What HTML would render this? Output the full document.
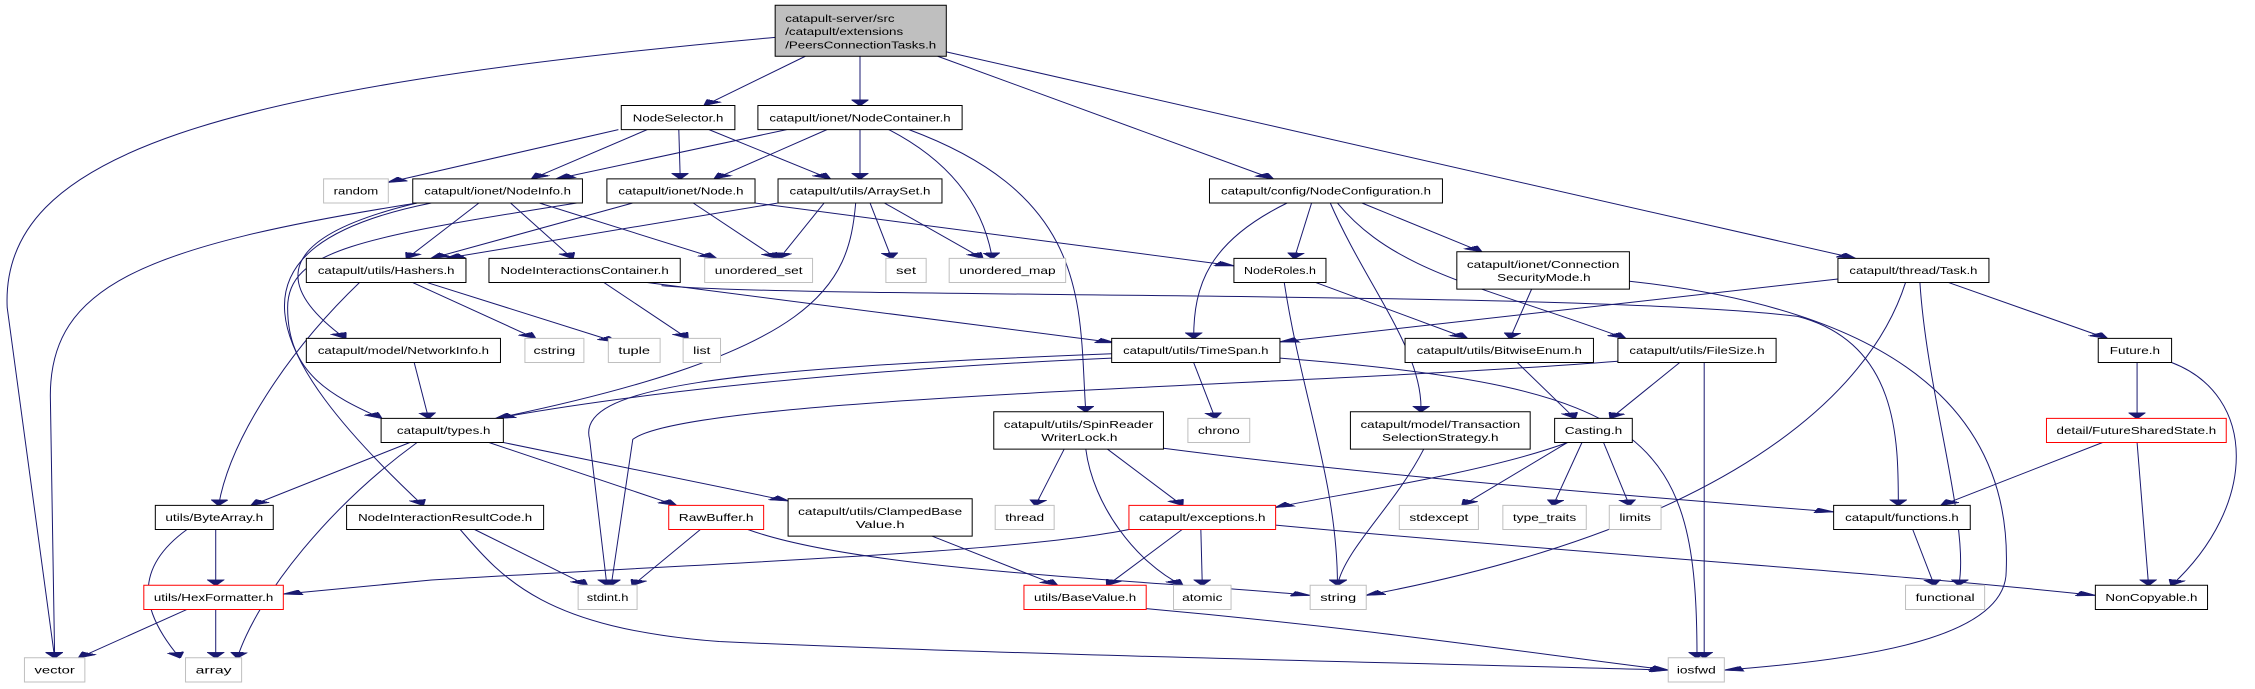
<!DOCTYPE html>
<html><head><meta charset="utf-8"><style>
html,body{margin:0;padding:0;background:#fff;}
svg{display:block;}
text{font-family:"Liberation Sans",Helvetica,sans-serif;font-size:23px;fill:#000;}
.e{fill:none;stroke:#191970;stroke-width:1;vector-effect:non-scaling-stroke;}
.b{fill:#fff;stroke:#000;stroke-width:1;vector-effect:non-scaling-stroke;}
.g{fill:#fff;stroke:#bfbfbf;stroke-width:1;vector-effect:non-scaling-stroke;}
.r{fill:#fff;stroke:#ff0000;stroke-width:1;vector-effect:non-scaling-stroke;}
</style></head><body>
<svg width="2255" height="689" viewBox="0 0 1568 1568" preserveAspectRatio="none" xmlns="http://www.w3.org/2000/svg">
<defs><marker id="a" markerUnits="userSpaceOnUse" markerWidth="14" markerHeight="12" refX="13" refY="6" orient="auto"><path d="M0,0 L14,6 L0,12 z" fill="#191970" stroke="#191970"/></marker></defs>
<g marker-end="url(#a)">
<path class="e" d="M539,85 C150,200 0,350 5,700 L38,1497"/>
<path class="e" d="M560,128 L490,240"/>
<path class="e" d="M598,128 L598,240"/>
<path class="e" d="M652,128 L885,407"/>
<path class="e" d="M658,118 L1290,588"/>
<path class="e" d="M430,295 L270,415"/>
<path class="e" d="M450,295 L370,407"/>
<path class="e" d="M472,295 L473,407"/>
<path class="e" d="M493,295 L577,407"/>
<path class="e" d="M547,295 L387,407"/>
<path class="e" d="M575,295 L497,407"/>
<path class="e" d="M598,295 L598,407"/>
<path class="e" d="M618,295 Q680,400 690,588"/>
<path class="e" d="M632,295 C760,450 750,700 755,937"/>
<path class="e" d="M290,462 C100,560 35,650 35,900 L38,1497"/>
<path class="e" d="M333,462 L283,588"/>
<path class="e" d="M355,462 L398,588"/>
<path class="e" d="M375,462 L498,588"/>
<path class="e" d="M300,462 C150,560 180,800 294,1150"/>
<path class="e" d="M290,462 C190,540 190,650 240,770"/>
<path class="e" d="M405,460 C250,540 200,570 200,700 C200,850 230,900 265,952"/>
<path class="e" d="M440,462 L300,588"/>
<path class="e" d="M482,462 L540,588"/>
<path class="e" d="M525,462 L858,605"/>
<path class="e" d="M541,462 L310,588"/>
<path class="e" d="M573,462 L542,588"/>
<path class="e" d="M605,462 L620,588"/>
<path class="e" d="M615,462 L683,588"/>
<path class="e" d="M595,462 C590,650 570,800 345,952"/>
<path class="e" d="M895,462 C840,550 830,650 830,770"/>
<path class="e" d="M912,462 L900,588"/>
<path class="e" d="M925,462 C950,650 990,800 988,937"/>
<path class="e" d="M930,462 C970,620 1030,650 1130,770"/>
<path class="e" d="M947,462 L1030,573"/>
<path class="e" d="M287,643 L372,770"/>
<path class="e" d="M297,643 L428,778"/>
<path class="e" d="M250,643 C200,800 160,1000 152,1150"/>
<path class="e" d="M420,643 L478,770"/>
<path class="e" d="M450,643 L775,780"/>
<path class="e" d="M460,650 C560,680 1100,660 1250,720 C1320,780 1320,1000 1320,1150"/>
<path class="e" d="M893,643 C905,900 930,1100 930,1332"/>
<path class="e" d="M915,643 L1020,770"/>
<path class="e" d="M1065,658 L1050,770"/>
<path class="e" d="M1133,640 C1300,700 1400,900 1395,1300 C1395,1450 1300,1500 1199,1525"/>
<path class="e" d="M1278,635 L890,778"/>
<path class="e" d="M1325,643 C1300,900 1200,1200 950,1355"/>
<path class="e" d="M1335,643 C1340,900 1370,1200 1362,1332"/>
<path class="e" d="M1355,643 L1465,770"/>
<path class="e" d="M288,825 L298,952"/>
<path class="e" d="M773,815 C600,840 450,890 345,952"/>
<path class="e" d="M773,805 C500,840 400,880 410,1000 L422,1332"/>
<path class="e" d="M830,825 L845,952"/>
<path class="e" d="M890,815 C1150,880 1180,1000 1180,1497"/>
<path class="e" d="M1055,825 L1095,952"/>
<path class="e" d="M1168,825 L1120,952"/>
<path class="e" d="M1185,825 L1185,1497"/>
<path class="e" d="M1125,822 C900,880 480,900 440,1000 L425,1332"/>
<path class="e" d="M1486,825 L1486,952"/>
<path class="e" d="M1510,825 C1570,900 1570,1150 1510,1332"/>
<path class="e" d="M285,1007 L175,1150"/>
<path class="e" d="M340,1007 L470,1150"/>
<path class="e" d="M350,1007 L548,1140"/>
<path class="e" d="M290,1007 C230,1150 180,1350 165,1497"/>
<path class="e" d="M740,1022 L720,1150"/>
<path class="e" d="M770,1022 L822,1150"/>
<path class="e" d="M755,1022 C760,1150 790,1280 822,1332"/>
<path class="e" d="M809,1020 C950,1080 1100,1120 1275,1165"/>
<path class="e" d="M990,1022 C970,1150 935,1250 930,1332"/>
<path class="e" d="M1090,1007 C1030,1080 920,1130 887,1155"/>
<path class="e" d="M1090,1007 L1017,1150"/>
<path class="e" d="M1100,1007 L1080,1150"/>
<path class="e" d="M1115,1007 L1133,1150"/>
<path class="e" d="M1462,1007 L1350,1150"/>
<path class="e" d="M1486,1007 L1494,1332"/>
<path class="e" d="M150,1205 L150,1332"/>
<path class="e" d="M130,1205 C90,1300 100,1400 125,1497"/>
<path class="e" d="M330,1205 L408,1332"/>
<path class="e" d="M320,1205 C350,1320 380,1430 500,1460 C700,1490 1000,1510 1160,1525"/>
<path class="e" d="M487,1205 L440,1332"/>
<path class="e" d="M520,1205 C600,1300 800,1320 911,1355"/>
<path class="e" d="M648,1220 L735,1332"/>
<path class="e" d="M785,1205 C700,1260 500,1280 300,1320 L197,1352"/>
<path class="e" d="M822,1205 L770,1332"/>
<path class="e" d="M835,1205 L836,1332"/>
<path class="e" d="M887,1195 C1100,1260 1300,1300 1457,1355"/>
<path class="e" d="M1330,1205 L1345,1332"/>
<path class="e" d="M130,1387 L55,1497"/>
<path class="e" d="M150,1387 L150,1497"/>
<path class="e" d="M797,1385 C950,1430 1050,1480 1160,1525"/>
</g>
<g>
<rect x="539" y="12" width="119" height="116" class="b" style="fill:#bfbfbf"/>
<text x="546" y="50" textLength="76" lengthAdjust="spacingAndGlyphs">catapult-server/src</text>
<text x="546" y="80" textLength="82" lengthAdjust="spacingAndGlyphs">/catapult/extensions</text>
<text x="546" y="110" textLength="105" lengthAdjust="spacingAndGlyphs">/PeersConnectionTasks.h</text>

<rect x="432" y="240" width="79" height="55" class="b"/><text x="440" y="276" textLength="63" lengthAdjust="spacingAndGlyphs">NodeSelector.h</text>
<rect x="527" y="240" width="142" height="55" class="b"/><text x="535" y="276" textLength="126" lengthAdjust="spacingAndGlyphs">catapult/ionet/NodeContainer.h</text>
<rect x="225" y="407" width="45" height="55" class="g"/><text x="232" y="443" textLength="31" lengthAdjust="spacingAndGlyphs">random</text>
<rect x="287" y="407" width="118" height="55" class="b"/><text x="295" y="443" textLength="102" lengthAdjust="spacingAndGlyphs">catapult/ionet/NodeInfo.h</text>
<rect x="422" y="407" width="103" height="55" class="b"/><text x="430" y="443" textLength="87" lengthAdjust="spacingAndGlyphs">catapult/ionet/Node.h</text>
<rect x="541" y="407" width="114" height="55" class="b"/><text x="549" y="443" textLength="98" lengthAdjust="spacingAndGlyphs">catapult/utils/ArraySet.h</text>
<rect x="841" y="407" width="162" height="55" class="b"/><text x="849" y="443" textLength="146" lengthAdjust="spacingAndGlyphs">catapult/config/NodeConfiguration.h</text>
<rect x="213" y="588" width="111" height="55" class="b"/><text x="221" y="624" textLength="95" lengthAdjust="spacingAndGlyphs">catapult/utils/Hashers.h</text>
<rect x="340" y="588" width="133" height="55" class="b"/><text x="348" y="624" textLength="117" lengthAdjust="spacingAndGlyphs">NodeInteractionsContainer.h</text>
<rect x="490" y="588" width="75" height="55" class="g"/><text x="497" y="624" textLength="61" lengthAdjust="spacingAndGlyphs">unordered_set</text>
<rect x="616" y="588" width="28" height="55" class="g"/><text x="623" y="624" textLength="14" lengthAdjust="spacingAndGlyphs">set</text>
<rect x="660" y="588" width="81" height="55" class="g"/><text x="667" y="624" textLength="67" lengthAdjust="spacingAndGlyphs">unordered_map</text>
<rect x="858" y="588" width="64" height="55" class="b"/><text x="865" y="624" textLength="50" lengthAdjust="spacingAndGlyphs">NodeRoles.h</text>
<rect x="1013" y="573" width="120" height="85" class="b"/><text x="1020" y="610" textLength="106" lengthAdjust="spacingAndGlyphs">catapult/ionet/Connection</text><text x="1041" y="640" textLength="65" lengthAdjust="spacingAndGlyphs">SecurityMode.h</text>
<rect x="1278" y="588" width="105" height="55" class="b"/><text x="1286" y="624" textLength="89" lengthAdjust="spacingAndGlyphs">catapult/thread/Task.h</text>
<rect x="213" y="770" width="135" height="55" class="b"/><text x="221" y="806" textLength="119" lengthAdjust="spacingAndGlyphs">catapult/model/NetworkInfo.h</text>
<rect x="365" y="770" width="41" height="55" class="g"/><text x="371" y="806" textLength="29" lengthAdjust="spacingAndGlyphs">cstring</text>
<rect x="423" y="770" width="36" height="55" class="g"/><text x="430" y="806" textLength="22" lengthAdjust="spacingAndGlyphs">tuple</text>
<rect x="475" y="770" width="26" height="55" class="g"/><text x="482" y="806" textLength="12" lengthAdjust="spacingAndGlyphs">list</text>
<rect x="773" y="770" width="117" height="55" class="b"/><text x="781" y="806" textLength="101" lengthAdjust="spacingAndGlyphs">catapult/utils/TimeSpan.h</text>
<rect x="977" y="770" width="131" height="55" class="b"/><text x="985" y="806" textLength="115" lengthAdjust="spacingAndGlyphs">catapult/utils/BitwiseEnum.h</text>
<rect x="1125" y="770" width="110" height="55" class="b"/><text x="1133" y="806" textLength="94" lengthAdjust="spacingAndGlyphs">catapult/utils/FileSize.h</text>
<rect x="1459" y="770" width="51" height="55" class="b"/><text x="1467" y="806" textLength="35" lengthAdjust="spacingAndGlyphs">Future.h</text>
<rect x="265" y="952" width="85" height="55" class="b"/><text x="276" y="988" textLength="65" lengthAdjust="spacingAndGlyphs">catapult/types.h</text>
<rect x="691" y="937" width="118" height="85" class="b"/><text x="698" y="974" textLength="104" lengthAdjust="spacingAndGlyphs">catapult/utils/SpinReader</text><text x="724" y="1004" textLength="53" lengthAdjust="spacingAndGlyphs">WriterLock.h</text>
<rect x="826" y="952" width="43" height="55" class="g"/><text x="833" y="988" textLength="29" lengthAdjust="spacingAndGlyphs">chrono</text>
<rect x="939" y="937" width="125" height="85" class="b"/><text x="946" y="974" textLength="111" lengthAdjust="spacingAndGlyphs">catapult/model/Transaction</text><text x="961" y="1004" textLength="81" lengthAdjust="spacingAndGlyphs">SelectionStrategy.h</text>
<rect x="1081" y="952" width="54" height="55" class="b"/><text x="1088" y="988" textLength="40" lengthAdjust="spacingAndGlyphs">Casting.h</text>
<rect x="1423" y="952" width="125" height="55" class="r"/><text x="1430" y="988" textLength="111" lengthAdjust="spacingAndGlyphs">detail/FutureSharedState.h</text>
<rect x="108" y="1150" width="82" height="55" class="b"/><text x="115" y="1186" textLength="68" lengthAdjust="spacingAndGlyphs">utils/ByteArray.h</text>
<rect x="241" y="1150" width="137" height="55" class="b"/><text x="249" y="1186" textLength="121" lengthAdjust="spacingAndGlyphs">NodeInteractionResultCode.h</text>
<rect x="465" y="1150" width="66" height="55" class="r"/><text x="472" y="1186" textLength="52" lengthAdjust="spacingAndGlyphs">RawBuffer.h</text>
<rect x="548" y="1135" width="128" height="85" class="b"/><text x="555" y="1172" textLength="114" lengthAdjust="spacingAndGlyphs">catapult/utils/ClampedBase</text><text x="595" y="1202" textLength="34" lengthAdjust="spacingAndGlyphs">Value.h</text>
<rect x="692" y="1150" width="41" height="55" class="g"/><text x="699" y="1186" textLength="27" lengthAdjust="spacingAndGlyphs">thread</text>
<rect x="785" y="1150" width="102" height="55" class="r"/><text x="792" y="1186" textLength="88" lengthAdjust="spacingAndGlyphs">catapult/exceptions.h</text>
<rect x="973" y="1150" width="55" height="55" class="g"/><text x="980" y="1186" textLength="41" lengthAdjust="spacingAndGlyphs">stdexcept</text>
<rect x="1045" y="1150" width="58" height="55" class="g"/><text x="1052" y="1186" textLength="44" lengthAdjust="spacingAndGlyphs">type_traits</text>
<rect x="1119" y="1150" width="36" height="55" class="g"/><text x="1126" y="1186" textLength="22" lengthAdjust="spacingAndGlyphs">limits</text>
<rect x="1275" y="1150" width="95" height="55" class="b"/><text x="1283" y="1186" textLength="79" lengthAdjust="spacingAndGlyphs">catapult/functions.h</text>
<rect x="100" y="1332" width="97" height="55" class="r"/><text x="107" y="1368" textLength="83" lengthAdjust="spacingAndGlyphs">utils/HexFormatter.h</text>
<rect x="402" y="1332" width="41" height="55" class="g"/><text x="408" y="1368" textLength="29" lengthAdjust="spacingAndGlyphs">stdint.h</text>
<rect x="712" y="1332" width="85" height="55" class="r"/><text x="719" y="1368" textLength="71" lengthAdjust="spacingAndGlyphs">utils/BaseValue.h</text>
<rect x="816" y="1332" width="40" height="55" class="g"/><text x="822" y="1368" textLength="28" lengthAdjust="spacingAndGlyphs">atomic</text>
<rect x="911" y="1332" width="39" height="55" class="g"/><text x="918" y="1368" textLength="25" lengthAdjust="spacingAndGlyphs">string</text>
<rect x="1325" y="1332" width="55" height="55" class="g"/><text x="1332" y="1368" textLength="41" lengthAdjust="spacingAndGlyphs">functional</text>
<rect x="1457" y="1332" width="78" height="55" class="b"/><text x="1464" y="1368" textLength="64" lengthAdjust="spacingAndGlyphs">NonCopyable.h</text>
<rect x="17" y="1497" width="42" height="55" class="g"/><text x="24" y="1533" textLength="28" lengthAdjust="spacingAndGlyphs">vector</text>
<rect x="129" y="1497" width="39" height="55" class="g"/><text x="136" y="1533" textLength="25" lengthAdjust="spacingAndGlyphs">array</text>
<rect x="1160" y="1497" width="39" height="55" class="g"/><text x="1166" y="1533" textLength="27" lengthAdjust="spacingAndGlyphs">iosfwd</text>
</g>
</svg>
</body></html>
